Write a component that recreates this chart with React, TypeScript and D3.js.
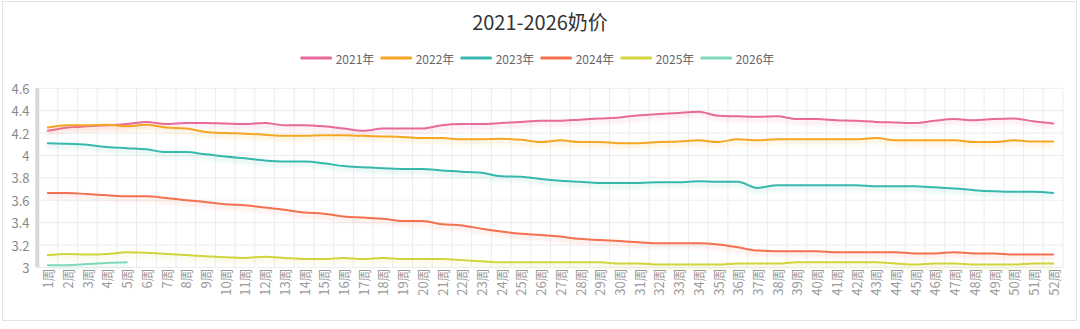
import React from "react";
import * as d3 from "d3";

const title = "2021-2026奶价";
const weeks: string[] = Array.from({ length: 52 }, (_, i) => `${i + 1}周`);
const yTicks = [3, 3.2, 3.4, 3.6, 3.8, 4, 4.2, 4.4, 4.6];

const seriesNames = ["2021年", "2022年", "2023年", "2024年", "2025年", "2026年"];
const seriesColors = ["#e8699a", "#f5a623", "#36b8ae", "#f3714f", "#d2d43c", "#7fd8bb"];

const v2021 = [4.22,4.25,4.26,4.27,4.28,4.30,4.28,4.29,4.29,4.285,4.28,4.29,4.27,4.27,4.26,4.24,4.22,4.24,4.24,4.24,4.27,4.28,4.28,4.29,4.30,4.31,4.31,4.32,4.33,4.34,4.36,4.37,4.38,4.39,4.355,4.35,4.345,4.35,4.325,4.325,4.315,4.31,4.30,4.295,4.29,4.31,4.325,4.315,4.325,4.33,4.305,4.285];
const v2022 = [4.25,4.27,4.27,4.275,4.26,4.275,4.25,4.24,4.21,4.20,4.195,4.185,4.175,4.175,4.18,4.18,4.175,4.17,4.165,4.155,4.155,4.145,4.145,4.15,4.14,4.12,4.135,4.12,4.12,4.11,4.11,4.12,4.125,4.135,4.12,4.145,4.135,4.145,4.145,4.145,4.145,4.145,4.155,4.135,4.135,4.135,4.135,4.12,4.12,4.135,4.125,4.125];
const v2023 = [4.11,4.105,4.095,4.075,4.065,4.055,4.03,4.03,4.01,3.99,3.975,3.955,3.945,3.945,3.93,3.905,3.895,3.885,3.88,3.88,3.865,3.855,3.845,3.815,3.81,3.79,3.775,3.765,3.755,3.755,3.755,3.76,3.76,3.77,3.765,3.765,3.71,3.735,3.735,3.735,3.735,3.735,3.725,3.725,3.725,3.715,3.705,3.69,3.68,3.675,3.675,3.665];
const v2024 = [3.665,3.665,3.655,3.645,3.635,3.635,3.62,3.60,3.585,3.565,3.555,3.535,3.515,3.49,3.48,3.455,3.445,3.435,3.415,3.415,3.385,3.375,3.345,3.32,3.30,3.29,3.275,3.255,3.245,3.235,3.225,3.215,3.215,3.215,3.205,3.18,3.15,3.145,3.145,3.145,3.135,3.135,3.135,3.135,3.125,3.125,3.135,3.125,3.125,3.115,3.115,3.115];
const v2025 = [3.11,3.12,3.115,3.12,3.135,3.13,3.12,3.11,3.10,3.09,3.085,3.095,3.085,3.075,3.075,3.085,3.075,3.085,3.075,3.075,3.075,3.065,3.055,3.045,3.045,3.045,3.045,3.045,3.045,3.035,3.035,3.025,3.025,3.025,3.025,3.035,3.035,3.035,3.045,3.045,3.045,3.045,3.045,3.035,3.025,3.035,3.035,3.025,3.025,3.025,3.035,3.035];
const v2026 = [3.02,3.02,3.03,3.04,3.045];

const seriesValues = [v2021, v2022, v2023, v2024, v2025, v2026];

const W = 1080;
const H = 329;
const FONT = '"Noto Sans CJK SC", "Noto Sans", sans-serif';

export default function App() {
  const left = 38;
  const right = 1063;
  const top = 88.3;
  const bottom = 267.4;

  const x = d3.scaleBand<string>().domain(weeks).range([left, right]).padding(0);
  const bw = x.bandwidth();
  const cx = (i: number) => (x(weeks[i]) as number) + bw / 2;
  const y = d3.scaleLinear().domain([3, 4.6]).range([bottom, top]);

  const line = d3
    .line<number>()
    .x((_, i) => cx(i))
    .y((d) => y(d))
    .curve(d3.curveMonotoneX);

  const legendStep = 80;
  const legendStart = 301.7;
  const legendY = 58;

  return (
    <svg
      width={W}
      height={H}
      style={{ position: "absolute", left: 0, top: 0, background: "#fff" }}
      fontFamily={FONT}
    >
      <defs>
        {seriesColors.map((c, i) => (
          <filter key={i} id={`sh${i}`} x="-5%" y="-50%" width="110%" height="300%">
            <feGaussianBlur in="SourceGraphic" stdDeviation="2" result="b" />
            <feOffset in="b" dx="0" dy="3" result="o" />
            <feComponentTransfer in="o" result="t">
              <feFuncA type="linear" slope="0.28" />
            </feComponentTransfer>
            <feMerge>
              <feMergeNode in="t" />
              <feMergeNode in="SourceGraphic" />
            </feMerge>
          </filter>
        ))}
      </defs>
      <rect x={2.5} y={1.5} width={1074} height={319} fill="#fff" stroke="#e3e3e3" />

      <text x={540} y={30} textAnchor="middle" fontSize={20} fill="#333">
        {title}
      </text>

      {seriesNames.map((n, i) => {
        const lx = legendStart + i * legendStep;
        return (
          <g key={n}>
            <line x1={lx} x2={lx + 29} y1={legendY} y2={legendY} stroke={seriesColors[i]} strokeWidth={3} strokeLinecap="round" />
            <text x={lx + 34} y={legendY} dominantBaseline="central" fontSize={12} fill="#666">
              {n}
            </text>
          </g>
        );
      })}

      {yTicks.map((t) => (
        <line key={t} x1={left} x2={right} y1={y(t)} y2={y(t)} stroke="#ececec" strokeWidth={1} />
      ))}
      {weeks.map((w) => (
        <line key={w} x1={x(w)} x2={x(w)} y1={top} y2={bottom} stroke="#ececec" strokeWidth={1} />
      ))}
      <line x1={right} x2={right} y1={top} y2={bottom} stroke="#ececec" strokeWidth={1} />

      <rect x={35.3} y={top} width={4} height={bottom - top} fill="#d8d8d8" />

      {yTicks.map((t) => (
        <text key={t} x={29.5} y={y(t)} textAnchor="end" dominantBaseline="central" fontSize={13} fill="#888">
          {d3.format("~g")(t)}
        </text>
      ))}

      {weeks.map((w, i) => (
        <text
          key={w}
          transform={`translate(${cx(i)},${bottom + 1}) rotate(-90)`}
          textAnchor="end"
          dominantBaseline="central"
          fontSize={13}
          fill="#999"
        >
          {w}
        </text>
      ))}

      {seriesValues.map((vals, i) => (
        <path
          key={i}
          d={line(vals) as string}
          fill="none"
          stroke={seriesColors[i]}
          strokeWidth={2}
          strokeLinejoin="round"
          strokeLinecap="round"
          filter={`url(#sh${i})`}
        />
      ))}
    </svg>
  );
}
